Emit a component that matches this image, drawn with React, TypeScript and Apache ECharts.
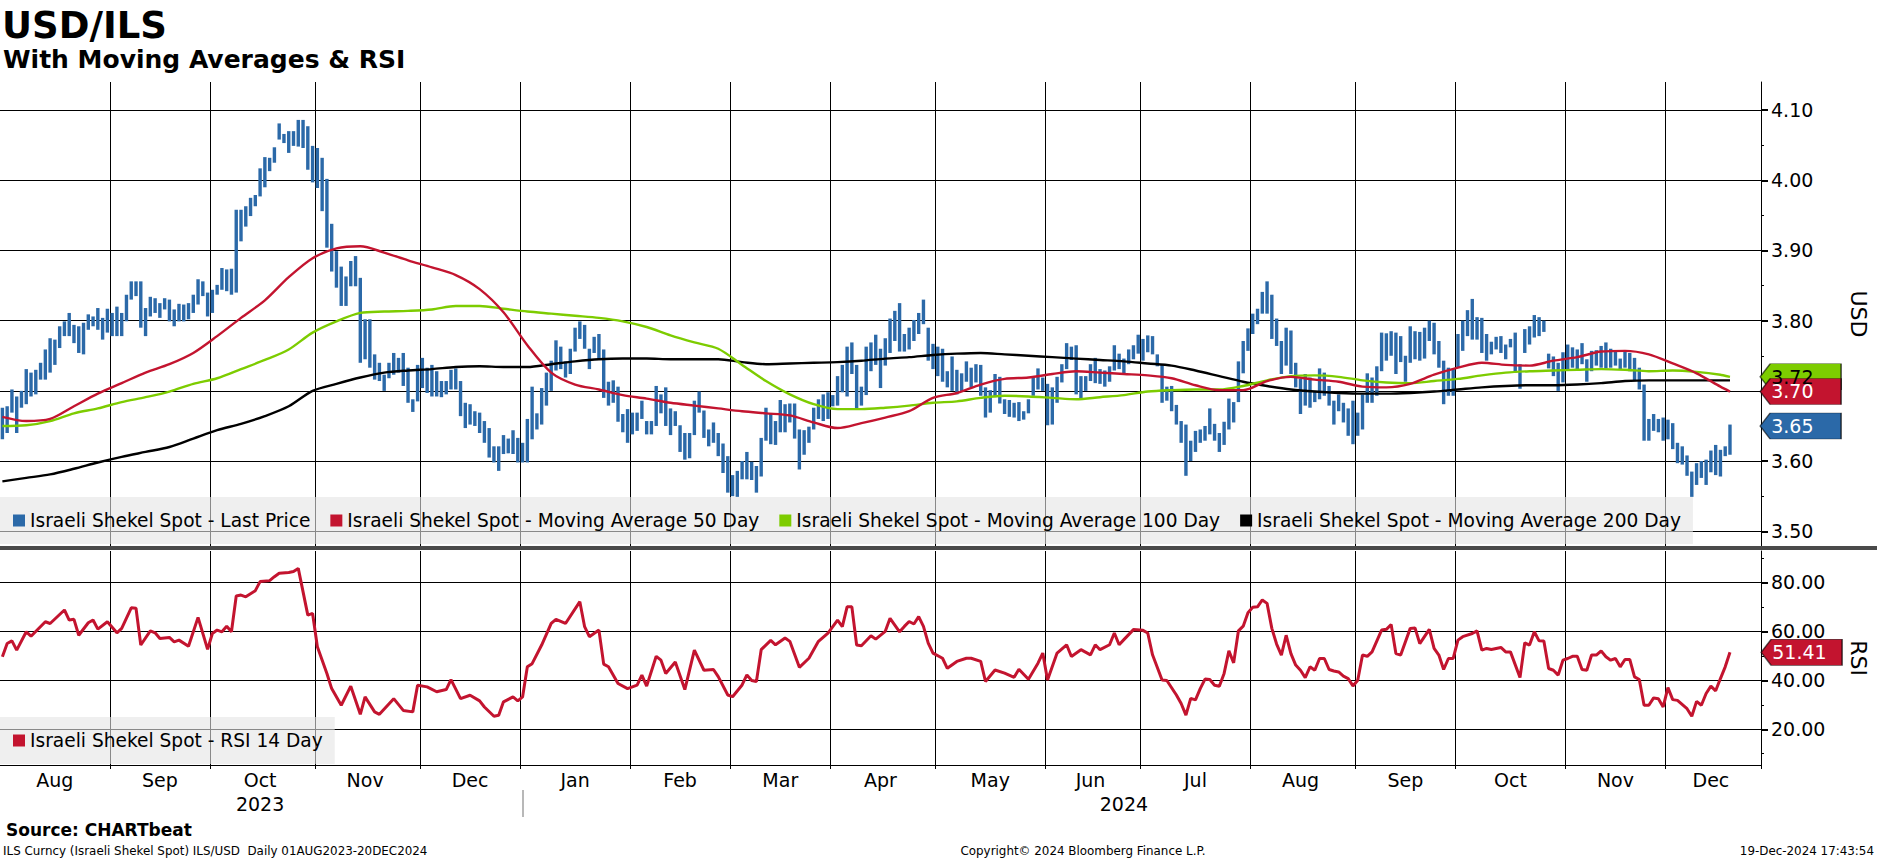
import React, { useEffect, useRef } from "react";
import * as echarts from "echarts";

const FONT = '"DejaVu Sans", Verdana, sans-serif';
const BLUE = "#2b69a8";
const RED = "#c3142f";
const GREEN = "#7dcc00";

const PRICE_NAME = "Israeli Shekel Spot - Last Price";
const MA50_NAME = "Israeli Shekel Spot - Moving Average 50 Day";
const MA100_NAME = "Israeli Shekel Spot - Moving Average 100 Day";
const MA200_NAME = "Israeli Shekel Spot - Moving Average 200 Day";
const RSI_NAME = "Israeli Shekel Spot - RSI 14 Day";

const MONTHS = ["Jan", "Feb", "Mar", "Apr", "May", "Jun", "Jul", "Aug", "Sep", "Oct", "Nov", "Dec"];
const priceTicks = [3.5, 3.6, 3.7, 3.8, 3.9, 4.0, 4.1];
const rsiTicks = [20, 40, 60, 80];
const lastPrice = 3.65;

// weekday slots 01AUG2023 .. 27DEC2024 (the last week is empty room on the right)
const dates: string[] = [];
for (let d = new Date(2023, 7, 1); d <= new Date(2024, 11, 27); d.setDate(d.getDate() + 1)) {
	if (d.getDay() === 0 || d.getDay() === 6) continue;
	dates.push(`${d.getFullYear()}-${String(d.getMonth() + 1).padStart(2, "0")}-${String(d.getDate()).padStart(2, "0")}`);
}

// daily high / low, one per weekday from 01AUG2023 to 19DEC2024
const highs = [
	3.676, 3.678, 3.702, 3.692, 3.700, 3.731, 3.726, 3.730, 3.740, 3.759,
	3.775, 3.773, 3.792, 3.799, 3.811, 3.794, 3.792, 3.797, 3.809, 3.806,
	3.818, 3.804, 3.817, 3.811, 3.820, 3.811, 3.837, 3.856, 3.856, 3.856,
	3.818, 3.834, 3.832, 3.825, 3.832, 3.830, 3.816, 3.824, 3.823, 3.825,
	3.837, 3.859, 3.856, 3.840, 3.844, 3.851, 3.875, 3.873, 3.874, 3.958,
	3.958, 3.963, 3.975, 3.979, 4.017, 4.033, 4.032, 4.047, 4.081, 4.066,
	4.070, 4.070, 4.086, 4.086, 4.077, 4.049, 4.046, 4.032, 4.002, 3.938,
	3.899, 3.877, 3.863, 3.885, 3.892, 3.861, 3.802, 3.802, 3.752, 3.740,
	3.723, 3.740, 3.754, 3.747, 3.754, 3.733, 3.688, 3.737, 3.747, 3.733,
	3.737, 3.728, 3.714, 3.714, 3.730, 3.732, 3.714, 3.683, 3.681, 3.671,
	3.669, 3.657, 3.647, 3.621, 3.621, 3.637, 3.632, 3.644, 3.633, 3.626,
	3.660, 3.706, 3.668, 3.704, 3.726, 3.743, 3.772, 3.763, 3.742, 3.760,
	3.790, 3.799, 3.794, 3.760, 3.777, 3.781, 3.759, 3.713, 3.715, 3.706,
	3.667, 3.674, 3.669, 3.669, 3.686, 3.657, 3.657, 3.707, 3.695, 3.705,
	3.675, 3.671, 3.651, 3.640, 3.640, 3.686, 3.699, 3.672, 3.645, 3.655,
	3.640, 3.625, 3.607, 3.580, 3.586, 3.600, 3.613, 3.599, 3.593, 3.633,
	3.676, 3.668, 3.657, 3.687, 3.681, 3.682, 3.682, 3.645, 3.644, 3.649,
	3.676, 3.688, 3.695, 3.698, 3.694, 3.721, 3.737, 3.763, 3.769, 3.737,
	3.706, 3.763, 3.769, 3.780, 3.760, 3.775, 3.803, 3.814, 3.825, 3.781,
	3.790, 3.801, 3.811, 3.830, 3.790, 3.767, 3.763, 3.760, 3.728, 3.749,
	3.730, 3.725, 3.742, 3.733, 3.738, 3.737, 3.705, 3.701, 3.724, 3.720,
	3.688, 3.687, 3.683, 3.684, 3.671, 3.688, 3.719, 3.732, 3.719, 3.710,
	3.705, 3.720, 3.738, 3.768, 3.763, 3.765, 3.721, 3.721, 3.738, 3.747,
	3.731, 3.729, 3.735, 3.765, 3.753, 3.746, 3.759, 3.765, 3.780, 3.774,
	3.779, 3.778, 3.752, 3.737, 3.706, 3.707, 3.680, 3.657, 3.652, 3.629,
	3.643, 3.645, 3.650, 3.675, 3.653, 3.640, 3.656, 3.689, 3.684, 3.742,
	3.771, 3.789, 3.810, 3.817, 3.841, 3.856, 3.837, 3.803, 3.771, 3.790,
	3.786, 3.740, 3.717, 3.724, 3.719, 3.700, 3.732, 3.726, 3.707, 3.686,
	3.695, 3.683, 3.675, 3.686, 3.669, 3.695, 3.725, 3.719, 3.735, 3.783,
	3.782, 3.785, 3.783, 3.778, 3.750, 3.792, 3.785, 3.784, 3.790, 3.800,
	3.797, 3.771, 3.743, 3.733, 3.731, 3.781, 3.800, 3.815, 3.831, 3.805,
	3.804, 3.781, 3.770, 3.777, 3.778, 3.766, 3.774, 3.783, 3.738, 3.788,
	3.792, 3.808, 3.805, 3.800, 3.753, 3.749, 3.740, 3.755, 3.766, 3.762,
	3.759, 3.768, 3.745, 3.757, 3.758, 3.764, 3.769, 3.760, 3.757, 3.746,
	3.757, 3.754, 3.747, 3.733, 3.709, 3.660, 3.667, 3.660, 3.662, 3.659,
	3.654, 3.626, 3.621, 3.608, 3.585, 3.597, 3.600, 3.602, 3.615, 3.623,
	3.616, 3.621, 3.652,
];
const lows = [
	3.631, 3.640, 3.669, 3.640, 3.676, 3.681, 3.692, 3.695, 3.716, 3.716,
	3.726, 3.737, 3.761, 3.778, 3.778, 3.768, 3.754, 3.752, 3.787, 3.792,
	3.787, 3.773, 3.783, 3.778, 3.778, 3.778, 3.799, 3.830, 3.835, 3.790,
	3.778, 3.806, 3.811, 3.804, 3.816, 3.799, 3.792, 3.799, 3.799, 3.802,
	3.811, 3.823, 3.835, 3.806, 3.811, 3.837, 3.844, 3.842, 3.837, 3.840,
	3.913, 3.934, 3.949, 3.963, 3.977, 3.990, 4.013, 4.025, 4.058, 4.053,
	4.039, 4.049, 4.048, 4.046, 4.015, 3.997, 3.989, 3.956, 3.904, 3.870,
	3.847, 3.821, 3.821, 3.849, 3.849, 3.740, 3.745, 3.733, 3.716, 3.714,
	3.700, 3.718, 3.723, 3.726, 3.707, 3.683, 3.670, 3.685, 3.704, 3.697,
	3.692, 3.692, 3.691, 3.695, 3.702, 3.702, 3.664, 3.647, 3.652, 3.650,
	3.640, 3.626, 3.605, 3.598, 3.586, 3.610, 3.611, 3.610, 3.598, 3.598,
	3.598, 3.631, 3.645, 3.652, 3.679, 3.700, 3.729, 3.731, 3.719, 3.724,
	3.756, 3.774, 3.760, 3.731, 3.754, 3.745, 3.690, 3.679, 3.683, 3.656,
	3.641, 3.626, 3.638, 3.643, 3.660, 3.638, 3.638, 3.650, 3.668, 3.650,
	3.637, 3.650, 3.613, 3.602, 3.604, 3.637, 3.669, 3.633, 3.621, 3.626,
	3.607, 3.583, 3.555, 3.550, 3.549, 3.574, 3.574, 3.573, 3.555, 3.578,
	3.629, 3.624, 3.623, 3.641, 3.641, 3.655, 3.632, 3.588, 3.609, 3.626,
	3.645, 3.660, 3.657, 3.660, 3.678, 3.679, 3.698, 3.692, 3.724, 3.675,
	3.679, 3.694, 3.728, 3.737, 3.704, 3.736, 3.754, 3.771, 3.756, 3.756,
	3.759, 3.771, 3.781, 3.795, 3.743, 3.731, 3.721, 3.713, 3.705, 3.700,
	3.695, 3.699, 3.713, 3.705, 3.712, 3.693, 3.662, 3.669, 3.691, 3.682,
	3.667, 3.663, 3.662, 3.657, 3.659, 3.668, 3.693, 3.702, 3.700, 3.651,
	3.652, 3.683, 3.712, 3.731, 3.744, 3.695, 3.688, 3.700, 3.714, 3.711,
	3.710, 3.706, 3.713, 3.729, 3.731, 3.724, 3.738, 3.745, 3.753, 3.743,
	3.755, 3.752, 3.735, 3.683, 3.686, 3.671, 3.652, 3.626, 3.579, 3.600,
	3.613, 3.626, 3.629, 3.638, 3.629, 3.613, 3.623, 3.645, 3.655, 3.684,
	3.725, 3.757, 3.781, 3.795, 3.810, 3.810, 3.774, 3.764, 3.724, 3.736,
	3.724, 3.705, 3.667, 3.679, 3.676, 3.684, 3.688, 3.693, 3.679, 3.652,
	3.671, 3.655, 3.636, 3.624, 3.636, 3.645, 3.683, 3.683, 3.693, 3.728,
	3.743, 3.750, 3.724, 3.741, 3.713, 3.740, 3.745, 3.743, 3.746, 3.771,
	3.752, 3.733, 3.681, 3.693, 3.693, 3.733, 3.757, 3.778, 3.773, 3.773,
	3.754, 3.743, 3.752, 3.759, 3.754, 3.745, 3.762, 3.726, 3.703, 3.754,
	3.766, 3.776, 3.778, 3.784, 3.732, 3.721, 3.700, 3.712, 3.731, 3.733,
	3.731, 3.738, 3.713, 3.728, 3.736, 3.733, 3.732, 3.733, 3.736, 3.731,
	3.733, 3.728, 3.714, 3.702, 3.629, 3.629, 3.643, 3.641, 3.629, 3.631,
	3.617, 3.597, 3.595, 3.579, 3.549, 3.566, 3.576, 3.566, 3.584, 3.580,
	3.578, 3.607, 3.609,
];

// moving averages read every 5th weekday (plus the last day)
const maDays = Array.from({ length: 73 }, (_, k) => k * 5).concat([362]);
const ma50 = [
	3.663, 3.657, 3.660, 3.678, 3.696, 3.711, 3.726, 3.738, 3.754, 3.778,
	3.804, 3.829, 3.862, 3.889, 3.903, 3.906, 3.897, 3.886, 3.876, 3.865,
	3.845, 3.812, 3.765, 3.726, 3.709, 3.702, 3.694, 3.689, 3.683, 3.679,
	3.675, 3.671, 3.668, 3.665, 3.655, 3.647, 3.654, 3.662, 3.671, 3.690,
	3.697, 3.709, 3.717, 3.719, 3.724, 3.728, 3.726, 3.724, 3.722, 3.718,
	3.708, 3.701, 3.701, 3.714, 3.720, 3.716, 3.713, 3.706, 3.705, 3.710,
	3.723, 3.733, 3.740, 3.737, 3.736, 3.743, 3.748, 3.756, 3.757, 3.752,
	3.739, 3.725, 3.706, 3.699,
];
const ma100 = [
	3.650, 3.651, 3.657, 3.668, 3.675, 3.684, 3.691, 3.699, 3.710, 3.718,
	3.731, 3.744, 3.759, 3.783, 3.799, 3.811, 3.813, 3.814, 3.816, 3.821,
	3.821, 3.817, 3.813, 3.810, 3.807, 3.804, 3.799, 3.791, 3.779, 3.769,
	3.760, 3.737, 3.714, 3.695, 3.681, 3.674, 3.674, 3.676, 3.679, 3.683,
	3.685, 3.690, 3.693, 3.692, 3.690, 3.688, 3.691, 3.694, 3.699, 3.701,
	3.702, 3.702, 3.707, 3.715, 3.721, 3.722, 3.720, 3.715, 3.712, 3.711,
	3.714, 3.717, 3.722, 3.726, 3.728, 3.729, 3.730, 3.731, 3.730, 3.728,
	3.729, 3.727, 3.723, 3.720,
];
const ma200 = [
	3.571, 3.576, 3.581, 3.589, 3.598, 3.606, 3.613, 3.620, 3.632, 3.644,
	3.653, 3.664, 3.678, 3.700, 3.710, 3.719, 3.726, 3.729, 3.731, 3.734,
	3.735, 3.734, 3.734, 3.738, 3.742, 3.745, 3.746, 3.746, 3.745, 3.745,
	3.745, 3.741, 3.738, 3.739, 3.740, 3.741, 3.743, 3.746, 3.748, 3.751,
	3.753, 3.754, 3.752, 3.750, 3.748, 3.746, 3.744, 3.742, 3.739, 3.736,
	3.729, 3.721, 3.713, 3.707, 3.702, 3.699, 3.697, 3.696, 3.696, 3.697,
	3.699, 3.702, 3.705, 3.707, 3.708, 3.708, 3.709, 3.711, 3.714, 3.715,
	3.715, 3.715, 3.715, 3.715,
];

// RSI 14 day: [weekday index, value] at the turns of the line
const rsiPoints = [
	[0, 49.6], [1, 55.0], [2, 56.1], [3, 52.3], [5, 59.8], [6, 58.0], [9, 63.9], [10, 63.2], [13, 68.7], [14, 64.6],
	[15, 64.9], [16, 58.4], [18, 63.5], [19, 64.6], [20, 60.9], [22, 63.9], [24, 59.4], [25, 61.2], [27, 69.6], [28, 69.4],
	[29, 54.4], [31, 60.2], [32, 59.4], [33, 57.1], [35, 57.5], [36, 55.7], [37, 56.4], [39, 53.9], [41, 65.7], [43, 52.6],
	[44, 59.1], [45, 60.5], [46, 59.8], [47, 62.1], [48, 59.8], [49, 74.4], [50, 74.8], [51, 74.1], [53, 76.6], [54, 80.3],
	[56, 80.7], [57, 82.3], [58, 83.7], [60, 84.0], [61, 84.4], [62, 85.7], [64, 66.6], [65, 67.3], [66, 53.7], [68, 42.8],
	[69, 36.6], [71, 29.8], [73, 37.6], [75, 26.1], [76, 33.2], [78, 27.1], [79, 26.1], [82, 32.5], [84, 27.7], [86, 27.1],
	[87, 38.0], [89, 37.3], [91, 35.3], [93, 36.2], [94, 40.3], [96, 32.5], [98, 33.9], [100, 31.6], [101, 29.1], [103, 25.3],
	[104, 25.7], [105, 31.2], [107, 33.2], [108, 31.6], [109, 33.2], [110, 45.5], [111, 46.8], [113, 54.4], [115, 63.2], [116, 64.9],
	[118, 63.2], [121, 72.1], [122, 61.9], [123, 57.8], [125, 60.5], [126, 46.6], [127, 45.5], [129, 38.7], [131, 36.6], [133, 38.0],
	[134, 42.1], [135, 37.6], [137, 49.8], [138, 48.2], [139, 42.8], [141, 47.5], [143, 36.2], [145, 52.3], [147, 44.1], [149, 44.4],
	[150, 41.5], [152, 34.0], [153, 33.3], [155, 38.1], [156, 42.2], [157, 39.9], [158, 39.5], [159, 52.5], [161, 56.3], [162, 54.5],
	[164, 57.3], [165, 55.9], [167, 45.3], [169, 49.0], [171, 55.9], [173, 59.3], [175, 64.6], [176, 61.9], [177, 70.0], [178, 70.0],
	[179, 54.4], [180, 54.1], [182, 58.2], [183, 56.8], [185, 60.0], [186, 65.3], [188, 59.8], [189, 62.0], [190, 64.0], [191, 63.0],
	[192, 66.0], [193, 62.0], [194, 55.2], [195, 51.1], [197, 49.0], [198, 44.9], [200, 47.7], [202, 49.0], [203, 49.0], [205, 47.7],
	[206, 39.5], [208, 44.2], [210, 42.9], [212, 41.2], [213, 44.5], [215, 40.4], [217, 47.0], [218, 51.1], [219, 40.1], [221, 51.1],
	[223, 54.5], [224, 49.7], [226, 52.5], [228, 50.4], [229, 54.5], [230, 52.5], [232, 54.5], [233, 59.3], [234, 54.5], [235, 56.6],
	[237, 60.7], [239, 60.4], [240, 59.3], [241, 50.4], [243, 40.1], [244, 39.9], [246, 34.0], [247, 30.5], [248, 25.8], [249, 32.6],
	[250, 32.0], [251, 36.6], [252, 40.5], [253, 40.3], [254, 38.0], [255, 37.6], [256, 42.8], [257, 52.0], [258, 47.1], [259, 60.2],
	[260, 62.1], [261, 67.6], [262, 69.8], [263, 70.0], [264, 72.8], [265, 71.4], [266, 61.2], [267, 54.8], [268, 50.3], [269, 58.4],
	[270, 50.9], [271, 46.2], [272, 44.1], [273, 41.1], [274, 45.5], [275, 44.1], [276, 48.9], [277, 48.9], [278, 44.4], [279, 43.8],
	[280, 43.4], [281, 41.7], [282, 40.7], [283, 37.7], [284, 40.0], [285, 50.3], [286, 49.8], [287, 51.6], [289, 60.5], [290, 60.8],
	[291, 62.8], [292, 50.9], [293, 50.3], [295, 61.2], [296, 61.4], [297, 55.0], [299, 60.8], [300, 53.0], [301, 50.3], [302, 44.4],
	[303, 48.9], [304, 48.9], [305, 56.4], [306, 57.8], [308, 59.1], [309, 60.2], [310, 52.3], [311, 53.0], [312, 52.6], [314, 53.4],
	[315, 51.6], [316, 51.6], [318, 41.1], [319, 55.3], [320, 54.4], [321, 59.8], [322, 56.1], [323, 56.0], [324, 44.8], [325, 44.1],
	[326, 42.1], [327, 48.2], [328, 48.9], [329, 49.8], [330, 49.8], [331, 44.4], [332, 44.1], [333, 50.3], [334, 50.3], [335, 52.0],
	[336, 49.6], [337, 48.2], [338, 48.9], [339, 45.5], [340, 48.5], [341, 48.5], [342, 41.4], [343, 40.3], [344, 29.8], [345, 29.8],
	[346, 32.8], [347, 32.5], [348, 29.1], [349, 37.0], [350, 32.1], [351, 31.8], [353, 28.4], [354, 25.3], [355, 31.4], [356, 29.8],
	[357, 34.6], [358, 37.6], [359, 35.7], [360, 40.7], [361, 45.5], [362, 51.41],
];

// where months / years start and their middle slot (for the labels)
const monthStart = new Set<number>();
const monthMid = new Set<number>();
const yearStart = new Set<number>();
const yearMid = new Set<number>();
{
	let s = 0;
	for (let i = 1; i <= dates.length; i++) {
		if (i === dates.length || dates[i].slice(0, 7) !== dates[s].slice(0, 7)) {
			monthMid.add(Math.floor((s + i - 1) / 2));
			if (i < dates.length) monthStart.add(i);
			s = i;
		}
	}
	const end = highs.length;
	let ys = 0;
	for (let i = 1; i <= end; i++) {
		if (i === end || dates[i].slice(0, 4) !== dates[ys].slice(0, 4)) {
			yearMid.add(Math.floor((ys + i - 1) / 2));
			if (i < end) yearStart.add(i);
			ys = i;
		}
	}
}

const TAG = "path://M0,13L10,0L81,0L81,26L10,26Z";

export default function App() {
	const chartRef = useRef<HTMLDivElement>(null);

	useEffect(() => {
		document.body.style.margin = "0";
		if (!chartRef.current) return;
		const chart = echarts.init(chartRef.current, null, { renderer: "svg" });

		const lastSlot = dates.length - 1;
		const text = { fontFamily: FONT, color: "#000" };
		const gridLine = { show: true, lineStyle: { color: "#000", width: 1 } };
		const tagLabel = {
			show: true,
			position: [12, 13],
			align: "left",
			verticalAlign: "middle",
			formatter: (p: any) => p.value[1].toFixed(2),
			color: "#fff",
			fontFamily: FONT,
			fontSize: 19,
		};
		const legendBase = {
			left: 0,
			orient: "horizontal",
			itemWidth: 12,
			itemHeight: 12,
			itemGap: 20,
			padding: [14, 12, 14, 13],
			backgroundColor: "rgba(228,228,228,0.6)",
			selectedMode: false,
			textStyle: { ...text, fontSize: 18.6 },
		};
		const maLine = (name: string, vals: number[], color: string) => ({
			name,
			type: "line",
			xAxisIndex: 0,
			yAxisIndex: 0,
			data: maDays.map((d, k) => [d, vals[k]]),
			symbol: "none",
			smooth: 0.3,
			lineStyle: { color, width: 2.4 },
			itemStyle: { color },
			z: 3,
		});

		chart.setOption({
			animation: false,
			grid: [
				{ left: -4, right: 111, top: 82, height: 464 },
				{ left: -4, right: 111, top: 551, height: 214 },
			],
			xAxis: [
				{
					type: "category",
					gridIndex: 0,
					data: dates,
					axisLine: { show: false },
					axisTick: { show: false },
					axisLabel: { show: false },
					splitLine: { ...gridLine, interval: (i: number) => monthStart.has(i) },
				},
				{
					type: "category",
					gridIndex: 1,
					position: "bottom",
					data: dates,
					axisLine: { show: true, lineStyle: { color: "#000", width: 1 } },
					axisTick: { show: true, interval: (i: number) => monthStart.has(i), length: 4, lineStyle: { color: "#000" } },
					axisLabel: {
						...text,
						fontSize: 19,
						margin: 5,
						interval: (i: number) => monthMid.has(i),
						formatter: (v: string) => MONTHS[Number(v.slice(5, 7)) - 1],
					},
					splitLine: { ...gridLine, interval: (i: number) => monthStart.has(i) },
				},
				{
					type: "category",
					gridIndex: 1,
					position: "bottom",
					offset: 25,
					data: dates,
					axisLine: { show: false },
					axisTick: {
						show: true,
						alignWithLabel: true,
						interval: (i: number) => yearStart.has(i),
						length: 27,
						lineStyle: { color: "#a0a0a0", width: 1.5 },
					},
					axisLabel: {
						...text,
						fontSize: 19,
						margin: 4,
						interval: (i: number) => yearMid.has(i),
						formatter: (v: string) => v.slice(0, 4),
					},
					splitLine: { show: false },
				},
			],
			yAxis: [
				{
					type: "value",
					gridIndex: 0,
					position: "right",
					min: 3.479,
					max: 4.14,
					axisLine: { show: true, lineStyle: { color: "#000", width: 1 } },
					axisTick: { show: true, customValues: priceTicks, length: 7, lineStyle: { color: "#000", width: 2 } },
					minorTick: { show: true, splitNumber: 2, length: 3, lineStyle: { color: "#000" } },
					axisLabel: { ...text, fontSize: 19, margin: 10, customValues: priceTicks, formatter: (v: number) => v.toFixed(2) },
					splitLine: gridLine,
					name: "USD",
					nameLocation: "middle",
					nameRotate: -90,
					nameGap: 86,
					nameTextStyle: { ...text, fontSize: 22 },
				},
				{
					type: "value",
					gridIndex: 1,
					position: "right",
					min: 5.4,
					max: 92.8,
					axisLine: { show: true, lineStyle: { color: "#000", width: 1 } },
					axisTick: { show: true, customValues: rsiTicks, length: 7, lineStyle: { color: "#000", width: 2 } },
					minorTick: { show: true, splitNumber: 2, length: 3, lineStyle: { color: "#000" } },
					axisLabel: { ...text, fontSize: 19, margin: 10, customValues: rsiTicks, formatter: (v: number) => v.toFixed(2) },
					splitLine: gridLine,
					name: "RSI",
					nameLocation: "middle",
					nameRotate: -90,
					nameGap: 86,
					nameTextStyle: { ...text, fontSize: 22 },
				},
			],
			legend: [
				{
					...legendBase,
					top: 497,
					data: [
						{ name: PRICE_NAME, icon: "rect", itemStyle: { color: BLUE } },
						{ name: MA50_NAME, icon: "rect", itemStyle: { color: RED } },
						{ name: MA100_NAME, icon: "rect", itemStyle: { color: GREEN } },
						{ name: MA200_NAME, icon: "rect", itemStyle: { color: "#000" } },
					],
				},
				{
					...legendBase,
					top: 717,
					data: [{ name: RSI_NAME, icon: "rect", itemStyle: { color: RED } }],
				},
			],
			series: [
				{
					name: PRICE_NAME,
					type: "custom",
					xAxisIndex: 0,
					yAxisIndex: 0,
					data: highs.map((h, i) => [i, lows[i], h]),
					encode: { x: 0, y: [1, 2] },
					itemStyle: { color: BLUE },
					z: 2,
					renderItem: (_: any, api: any) => {
						const lo = api.coord([api.value(0), api.value(1)]);
						const hi = api.coord([api.value(0), api.value(2)]);
						return {
							type: "rect",
							shape: { x: lo[0] - 1.7, y: hi[1], width: 3.4, height: Math.max(lo[1] - hi[1], 1) },
							style: { fill: BLUE },
						};
					},
				},
				maLine(MA200_NAME, ma200, "#000"),
				maLine(MA100_NAME, ma100, GREEN),
				maLine(MA50_NAME, ma50, RED),
				{
					name: RSI_NAME,
					type: "line",
					xAxisIndex: 1,
					yAxisIndex: 1,
					data: rsiPoints,
					symbol: "none",
					lineStyle: { color: RED, width: 3 },
					itemStyle: { color: RED },
					z: 3,
				},
				{
					name: "last values",
					type: "scatter",
					xAxisIndex: 0,
					yAxisIndex: 0,
					clip: false,
					silent: true,
					z: 10,
					symbol: TAG,
					symbolSize: [81, 26],
					symbolOffset: [42, 0],
					itemStyle: { borderColor: "rgba(0,0,0,0.6)", borderWidth: 1, opacity: 1 },
					label: tagLabel,
					data: [
						{ value: [lastSlot, ma100[ma100.length - 1]], itemStyle: { color: GREEN }, label: { color: "#000" } },
						{ value: [lastSlot, ma50[ma50.length - 1]], itemStyle: { color: RED } },
						{ value: [lastSlot, lastPrice], itemStyle: { color: BLUE } },
					],
				},
				{
					name: "last rsi",
					type: "scatter",
					xAxisIndex: 1,
					yAxisIndex: 1,
					clip: false,
					silent: true,
					z: 10,
					symbol: TAG,
					symbolSize: [81, 26],
					symbolOffset: [43, 0],
					itemStyle: { color: RED, borderColor: "rgba(0,0,0,0.6)", borderWidth: 1, opacity: 1 },
					label: tagLabel,
					data: [[lastSlot, rsiPoints[rsiPoints.length - 1][1]]],
				},
			],
			graphic: [
				{ type: "rect", z: 100, shape: { x: 0, y: 546, width: 1877, height: 4 }, style: { fill: "#4a4a4a" } },
				{
					type: "text", x: 2, y: 25,
					style: { text: "USD/ILS", font: `bold 37px ${FONT}`, fill: "#000", verticalAlign: "middle", textVerticalAlign: "middle" },
				},
				{
					type: "text", x: 3, y: 59,
					style: { text: "With Moving Averages & RSI", font: `bold 25px ${FONT}`, fill: "#000", verticalAlign: "middle", textVerticalAlign: "middle" },
				},
				{
					type: "text", x: 6, y: 830,
					style: { text: "Source: CHARTbeat", font: `bold 17px ${FONT}`, fill: "#000", verticalAlign: "middle", textVerticalAlign: "middle" },
				},
				{
					type: "text", x: 3, y: 851,
					style: { text: "ILS Curncy (Israeli Shekel Spot) ILS/USD  Daily 01AUG2023-20DEC2024", font: `11.9px ${FONT}`, fill: "#000", verticalAlign: "middle", textVerticalAlign: "middle" },
				},
				{
					type: "text", x: 1083, y: 851,
					style: { text: "Copyright© 2024 Bloomberg Finance L.P.", font: `11.9px ${FONT}`, fill: "#000", align: "center", textAlign: "center", verticalAlign: "middle", textVerticalAlign: "middle" },
				},
				{
					type: "text", x: 1874, y: 851,
					style: { text: "19-Dec-2024 17:43:54", font: `11.9px ${FONT}`, fill: "#000", align: "right", textAlign: "right", verticalAlign: "middle", textVerticalAlign: "middle" },
				},
			],
		});

		return () => chart.dispose();
	}, []);

	return <div ref={chartRef} style={{ width: 1877, height: 859 }} />;
}
